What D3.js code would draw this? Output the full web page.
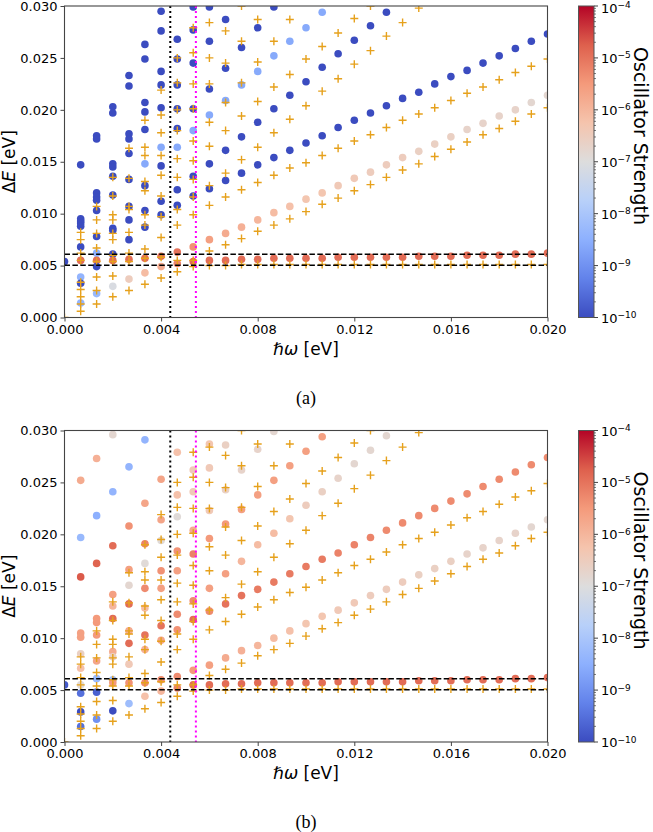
<!DOCTYPE html>
<html>
<head>
<meta charset="utf-8">
<script src="https://cdn.jsdelivr.net/npm/d3@7"></script>
<style>
  body { margin: 0; background: #fff; }
  svg text { font-family: "DejaVu Sans", sans-serif; fill: #000; }
</style>
</head>
<body>
<svg id="fig" width="653" height="832"></svg>
<script>

// photon energy of each column (eV)
const omega = [0, 0.00067, 0.00133, 0.002, 0.00267, 0.00333, 0.004, 0.00467, 0.00533, 0.006,
  0.00667, 0.00733, 0.008, 0.00867, 0.00933, 0.01, 0.01067, 0.01133, 0.012, 0.01267,
  0.01333, 0.014, 0.01467, 0.01533, 0.016, 0.01667, 0.01733, 0.018, 0.01867, 0.01933, 0.02]

// panel (a): per column, [deltaE, log10 oscillator strength]
const circlesA = [
  [[0.0054, -10]],
  [[0.0147, -10], [0.0095, -10], [0.0093, -10], [0.0091, -10], [0.0088, -10], [0.0068, -10], [0.0055, -4.9], [0.0039, -8.4], [0.0033, -10], [0.0014, -8.4]],
  [[0.0175, -10], [0.0172, -10], [0.0120, -10], [0.0116, -10], [0.0113, -10], [0.0103, -10], [0.0078, -10], [0.0062, -8.5], [0.0055, -4.9], [0.0049, -10], [0.0023, -8.3]],
  [[0.0203, -10], [0.0197, -10], [0.0148, -10], [0.0145, -10], [0.0136, -10], [0.0118, -10], [0.0086, -10], [0.0084, -10], [0.0061, -10], [0.0055, -4.9], [0.0030, -7.1]],
  [[0.0233, -10], [0.0223, -10], [0.0177, -10], [0.0172, -10], [0.0158, -10], [0.0133, -10], [0.0107, -10], [0.0094, -10], [0.0075, -10], [0.0056, -4.9], [0.0037, -6.5]],
  [[0.0263, -10], [0.0249, -10], [0.0207, -10], [0.0198, -10], [0.0181, -10], [0.0148, -8.6], [0.0127, -10], [0.0103, -10], [0.0087, -10], [0.0057, -4.9], [0.0043, -6.1]],
  [[0.0295, -10], [0.0276, -10], [0.0237, -10], [0.0224, -10], [0.0202, -10], [0.0164, -8.6], [0.0146, -10], [0.0112, -10], [0.0099, -10], [0.0059, -4.9], [0.0049, -5.8]],
  [[0.0268, -10], [0.0249, -10], [0.0224, -10], [0.0201, -10], [0.0182, -10], [0.0164, -8.6], [0.0123, -10], [0.0108, -10], [0.0063, -5.0], [0.0052, -5.2]],
  [[0.0299, -10], [0.0277, -10], [0.0245, -10], [0.0201, -10], [0.0180, -8.6], [0.0136, -10], [0.0117, -10], [0.0068, -5.4], [0.0054, -4.9]],
  [[0.0299, -10], [0.0266, -10], [0.0220, -10], [0.0195, -8.6], [0.0148, -10], [0.0124, -10], [0.0075, -5.6], [0.0055, -4.9]],
  [[0.0287, -10], [0.0240, -10], [0.0209, -8.6], [0.0161, -10], [0.0132, -10], [0.0081, -5.8], [0.0055, -4.9]],
  [[0.0260, -10], [0.0224, -8.6], [0.0174, -10], [0.0139, -10], [0.0087, -5.9], [0.0056, -4.9]],
  [[0.0279, -10], [0.0237, -8.6], [0.0188, -10], [0.0147, -10], [0.0094, -6.0], [0.0056, -4.9]],
  [[0.0299, -10], [0.0252, -8.6], [0.0201, -10], [0.0154, -10], [0.0101, -6.1], [0.0057, -4.9]],
  [[0.0266, -8.6], [0.0214, -10], [0.0161, -10], [0.0107, -6.2], [0.0057, -4.9]],
  [[0.0279, -8.6], [0.0227, -10], [0.0168, -10], [0.0114, -6.3], [0.0057, -4.9]],
  [[0.0294, -8.6], [0.0241, -10], [0.0175, -10], [0.0120, -6.3], [0.0057, -4.9]],
  [[0.0254, -10], [0.0183, -10], [0.0127, -6.4], [0.0058, -4.9]],
  [[0.0267, -10], [0.0190, -10], [0.0134, -6.4], [0.0058, -4.9]],
  [[0.0281, -10], [0.0197, -10], [0.0140, -6.5], [0.0058, -4.9]],
  [[0.0294, -10], [0.0204, -10], [0.0147, -6.5], [0.0058, -4.9]],
  [[0.0211, -10], [0.0154, -6.5], [0.0058, -4.9]],
  [[0.0217, -10], [0.0160, -6.6], [0.0059, -4.9]],
  [[0.0225, -10], [0.0167, -6.6], [0.0059, -4.9]],
  [[0.0232, -10], [0.0174, -6.6], [0.0059, -4.9]],
  [[0.0238, -10], [0.0181, -6.7], [0.0060, -4.9]],
  [[0.0245, -10], [0.0187, -6.7], [0.0060, -4.9]],
  [[0.0252, -10], [0.0194, -6.7], [0.0060, -4.9]],
  [[0.0259, -10], [0.0200, -6.7], [0.0061, -4.9]],
  [[0.0266, -10], [0.0207, -6.8], [0.0061, -4.9]],
  [[0.0273, -10], [0.0214, -6.8], [0.0062, -4.9]]
]

// panel (b): per column, [deltaE, log10 oscillator strength]
const circlesB = [
  [[0.0055, -9.8]],
  [[0.0252, -5.8], [0.0197, -8.3], [0.0159, -4.7], [0.0105, -5.6], [0.0101, -5.6], [0.0085, -6.6], [0.0071, -6.2], [0.0055, -6.9], [0.0047, -9.5], [0.0029, -10], [0.0015, -9.5]],
  [[0.0273, -5.9], [0.0218, -8.5], [0.0172, -4.8], [0.0119, -5.5], [0.0115, -5.5], [0.0103, -5.5], [0.0078, -5.7], [0.0061, -8.3], [0.0048, -9.7], [0.0022, -9.0]],
  [[0.0296, -6.8], [0.0241, -8.4], [0.0189, -4.9], [0.0142, -5.6], [0.0131, -6.0], [0.0119, -4.9], [0.0087, -5.8], [0.0082, -6.6], [0.0060, -8.2], [0.0057, -5.5], [0.0030, -10]],
  [[0.0265, -8.4], [0.0208, -5.4], [0.0166, -5.6], [0.0151, -6.8], [0.0133, -4.9], [0.0107, -5.8], [0.0095, -4.9], [0.0075, -6.4], [0.0057, -5.4], [0.0037, -8.2]],
  [[0.0291, -8.4], [0.0230, -5.7], [0.0191, -5.2], [0.0172, -6.9], [0.0148, -5.3], [0.0129, -6.1], [0.0103, -5.0], [0.0089, -5.9], [0.0057, -5.3], [0.0044, -6.2]],
  [[0.0253, -5.7], [0.0214, -5.7], [0.0194, -6.9], [0.0165, -5.4], [0.0148, -5.6], [0.0112, -5.0], [0.0098, -5.7], [0.0060, -5.3], [0.0049, -6.0]],
  [[0.0279, -6.2], [0.0238, -6.2], [0.0217, -6.9], [0.0184, -5.4], [0.0165, -5.6], [0.0123, -5.3], [0.0108, -5.4], [0.0063, -5.3], [0.0052, -5.2]],
  [[0.0262, -6.4], [0.0241, -6.4], [0.0204, -5.8], [0.0181, -5.2], [0.0136, -5.3], [0.0118, -4.9], [0.0069, -5.5], [0.0055, -4.9]],
  [[0.0287, -6.3], [0.0264, -6.4], [0.0223, -6.4], [0.0196, -5.5], [0.0148, -5.6], [0.0126, -5.3], [0.0074, -5.6], [0.0055, -4.9]],
  [[0.0286, -6.6], [0.0243, -6.6], [0.0210, -5.5], [0.0162, -5.6], [0.0133, -5.0], [0.0081, -5.8], [0.0056, -4.9]],
  [[0.0262, -6.7], [0.0224, -5.6], [0.0174, -6.0], [0.0141, -5.0], [0.0088, -5.9], [0.0056, -4.9]],
  [[0.0282, -6.7], [0.0238, -5.6], [0.0190, -6.1], [0.0147, -5.1], [0.0093, -6.0], [0.0057, -4.9]],
  [[0.0299, -6.8], [0.0252, -5.6], [0.0201, -6.1], [0.0154, -5.1], [0.0100, -6.1], [0.0057, -4.9]],
  [[0.0266, -5.6], [0.0215, -6.3], [0.0162, -5.1], [0.0107, -6.2], [0.0057, -4.9]],
  [[0.0280, -5.6], [0.0228, -6.5], [0.0169, -5.1], [0.0114, -6.3], [0.0057, -4.9]],
  [[0.0294, -5.6], [0.0241, -6.6], [0.0176, -5.1], [0.0121, -6.3], [0.0057, -4.9]],
  [[0.0254, -6.7], [0.0182, -5.2], [0.0127, -6.4], [0.0058, -4.9]],
  [[0.0268, -6.8], [0.0190, -5.2], [0.0134, -6.4], [0.0058, -4.9]],
  [[0.0281, -6.8], [0.0197, -5.2], [0.0141, -6.5], [0.0058, -4.9]],
  [[0.0295, -6.8], [0.0204, -5.3], [0.0147, -6.5], [0.0058, -4.9]],
  [[0.0211, -5.3], [0.0154, -6.5], [0.0058, -4.9]],
  [[0.0218, -5.3], [0.0161, -6.6], [0.0059, -4.9]],
  [[0.0225, -5.3], [0.0167, -6.6], [0.0059, -4.9]],
  [[0.0232, -5.3], [0.0174, -6.6], [0.0059, -4.9]],
  [[0.0239, -5.3], [0.0181, -6.7], [0.0060, -4.9]],
  [[0.0246, -5.3], [0.0187, -6.7], [0.0060, -4.9]],
  [[0.0253, -5.3], [0.0194, -6.7], [0.0060, -4.9]],
  [[0.0260, -5.3], [0.0201, -6.7], [0.0061, -4.9]],
  [[0.0267, -5.3], [0.0207, -6.8], [0.0061, -4.9]],
  [[0.0274, -5.3], [0.0214, -6.8], [0.0062, -4.9]]
]

// '+' markers, same in both panels: per column, deltaE
const pluses = [
  [0.0000],
  [0.0082, 0.0075, 0.0062, 0.0055, 0.0034, 0.0027, 0.0020, 0.0013, 0.0006],
  [0.0107, 0.0094, 0.0081, 0.0067, 0.0054, 0.0039, 0.0026, 0.0013],
  [0.0135, 0.0117, 0.0099, 0.0094, 0.0081, 0.0075, 0.0060, 0.0054, 0.0040, 0.0020],
  [0.0163, 0.0134, 0.0107, 0.0104, 0.0082, 0.0062, 0.0054, 0.0026],
  [0.0190, 0.0164, 0.0156, 0.0131, 0.0122, 0.0099, 0.0089, 0.0066, 0.0057, 0.0032],
  [0.0219, 0.0195, 0.0178, 0.0156, 0.0137, 0.0117, 0.0097, 0.0077, 0.0058, 0.0038],
  [0.0250, 0.0226, 0.0200, 0.0180, 0.0153, 0.0135, 0.0104, 0.0089, 0.0055, 0.0044],
  [0.0279, 0.0255, 0.0225, 0.0201, 0.0170, 0.0151, 0.0133, 0.0116, 0.0099, 0.0055, 0.0049],
  [0.0284, 0.0250, 0.0225, 0.0188, 0.0165, 0.0127, 0.0108, 0.0064, 0.0050],
  [0.0276, 0.0245, 0.0207, 0.0180, 0.0139, 0.0116, 0.0070, 0.0050],
  [0.0300, 0.0266, 0.0226, 0.0194, 0.0152, 0.0123, 0.0076, 0.0051],
  [0.0287, 0.0246, 0.0208, 0.0164, 0.0130, 0.0083, 0.0051],
  [0.0266, 0.0222, 0.0178, 0.0137, 0.0089, 0.0051],
  [0.0287, 0.0234, 0.0191, 0.0144, 0.0095, 0.0051],
  [0.0249, 0.0204, 0.0149, 0.0102, 0.0051],
  [0.0261, 0.0218, 0.0156, 0.0109, 0.0051],
  [0.0274, 0.0230, 0.0163, 0.0115, 0.0051],
  [0.0288, 0.0244, 0.0170, 0.0122, 0.0051],
  [0.0300, 0.0257, 0.0176, 0.0128, 0.0051],
  [0.0271, 0.0183, 0.0135, 0.0051],
  [0.0284, 0.0190, 0.0142, 0.0051],
  [0.0298, 0.0196, 0.0148, 0.0051],
  [0.0202, 0.0155, 0.0051],
  [0.0209, 0.0162, 0.0051],
  [0.0216, 0.0169, 0.0051],
  [0.0222, 0.0176, 0.0051],
  [0.0229, 0.0182, 0.0051],
  [0.0236, 0.0189, 0.0051],
  [0.0242, 0.0196, 0.0051],
  [0.0249, 0.0202, 0.0051]
]

const dashedLevels = [0.00503, 0.00609]
const blackDotX = 0.00438
const magentaDotX = 0.00544

const xTicks = [0, 0.004, 0.008, 0.012, 0.016, 0.020]
const yTicks = [0, 0.005, 0.010, 0.015, 0.020, 0.025, 0.030]
const cbDecades = [-10, -9, -8, -7, -6, -5, -4]

// matplotlib coolwarm
const coolwarmStops = ['#3b4cc0', '#6282ea', '#8db0fe', '#b8d0f9', '#dddddd', '#f5c4ad', '#f49a7b', '#de604d', '#b40426']

const color = d3.scaleLinear()
    .domain(d3.range(coolwarmStops.length).map(i => -10 + 6 * i / (coolwarmStops.length - 1)))
    .range(coolwarmStops)
    .interpolate(d3.interpolateRgb)
    .clamp(true)

const fig = d3.select('#fig')

const left = 64.5, right = 547.5
const x = d3.scaleLinear().domain([0, 0.02]).range([left, right])

const cbLeft = 578.5, cbWidth = 15.5

const defs = fig.append('defs')

const grad = defs.append('linearGradient')
    .attr('id', 'cbgrad').attr('x1', 0).attr('y1', 1).attr('x2', 0).attr('y2', 0)
coolwarmStops.forEach((c, i) => {
    grad.append('stop').attr('offset', i / (coolwarmStops.length - 1)).attr('stop-color', c)
})

function drawPanel(id, top, bottom, circles, caption) {

    const y = d3.scaleLinear().domain([0, 0.03]).range([bottom, top])

    const g = fig.append('g').attr('id', id)

    defs.append('clipPath').attr('id', 'clip-' + id)
        .append('rect').attr('x', left).attr('y', top).attr('width', right - left).attr('height', bottom - top)

    const plot = g.append('g').attr('clip-path', `url(#clip-${id})`)

    const circ = []
    circles.forEach((col, k) => col.forEach(d => circ.push({ w: omega[k], e: d[0], f: d[1] })))

    plot.selectAll('circle').data(circ).join('circle')
        .attr('cx', d => x(d.w))
        .attr('cy', d => y(d.e))
        .attr('r', 3.8)
        .attr('fill', d => color(d.f))

    const pl = []
    pluses.forEach((col, k) => col.forEach(e => pl.push({ w: omega[k], e: e })))

    plot.selectAll('path.plus').data(pl).join('path')
        .attr('class', 'plus')
        .attr('d', d => {
            const cx = x(d.w), cy = y(d.e), s = 4
            return `M${cx - s},${cy}H${cx + s}M${cx},${cy - s}V${cy + s}`
        })
        .attr('stroke', '#e6a11c')
        .attr('stroke-width', 1.4)
        .attr('fill', 'none')

    dashedLevels.forEach(v => {
        plot.append('line')
            .attr('x1', left).attr('x2', right)
            .attr('y1', y(v)).attr('y2', y(v))
            .attr('stroke', '#000').attr('stroke-width', 1.5)
            .attr('stroke-dasharray', '5.5,2.4')
    })

    plot.append('line')
        .attr('x1', x(blackDotX)).attr('x2', x(blackDotX))
        .attr('y1', top).attr('y2', bottom)
        .attr('stroke', '#000').attr('stroke-width', 2)
        .attr('stroke-dasharray', '2,3')

    plot.append('line')
        .attr('x1', x(magentaDotX)).attr('x2', x(magentaDotX))
        .attr('y1', top).attr('y2', bottom)
        .attr('stroke', '#ff00ff').attr('stroke-width', 2)
        .attr('stroke-dasharray', '2,3')

    // axes
    const xAxis = g.append('g').attr('transform', `translate(0,${bottom})`)
        .call(d3.axisBottom(x).tickValues(xTicks).tickFormat(d3.format('.3f')).tickSize(4).tickPadding(3))
    const yAxis = g.append('g').attr('transform', `translate(${left},0)`)
        .call(d3.axisLeft(y).tickValues(yTicks).tickFormat(d3.format('.3f')).tickSize(4).tickPadding(3))

    ;[xAxis, yAxis].forEach(a => {
        a.select('.domain').remove()
        a.selectAll('line').attr('stroke', '#444')
        a.selectAll('text').attr('font-size', 13).attr('font-family', 'DejaVu Sans').attr('fill', '#000')
    })

    g.append('rect')
        .attr('x', left).attr('y', top).attr('width', right - left).attr('height', bottom - top)
        .attr('fill', 'none').attr('stroke', '#444').attr('stroke-width', 1.1)

    g.append('text')
        .attr('x', (left + right) / 2).attr('y', bottom + 37)
        .attr('text-anchor', 'middle').attr('font-size', 17)
        .html('<tspan font-style="italic">ℏω</tspan> [eV]')

    g.append('text')
        .attr('transform', `translate(15,${(top + bottom) / 2}) rotate(-90)`)
        .attr('text-anchor', 'middle').attr('font-size', 17)
        .html('Δ<tspan font-style="italic">E</tspan> [eV]')

    g.append('text')
        .attr('x', (left + right) / 2).attr('y', bottom + 86)
        .attr('text-anchor', 'middle').attr('font-size', 18)
        .style('font-family', '"Liberation Serif", "DejaVu Serif", serif')
        .text(caption)

    // colorbar
    const cb = d3.scaleLinear().domain([-10, -4]).range([bottom, top])
    const cg = g.append('g')

    cg.append('rect')
        .attr('x', cbLeft).attr('y', top).attr('width', cbWidth).attr('height', bottom - top)
        .attr('fill', 'url(#cbgrad)').attr('stroke', '#555').attr('stroke-width', 1)

    const minor = []
    cbDecades.slice(0, -1).forEach(e => d3.range(2, 10).forEach(m => minor.push(e + Math.log10(m))))

    cg.selectAll('line.minor').data(minor).join('line')
        .attr('class', 'minor')
        .attr('x1', cbLeft + cbWidth).attr('x2', cbLeft + cbWidth + 2)
        .attr('y1', d => cb(d)).attr('y2', d => cb(d))
        .attr('stroke', '#444').attr('stroke-width', 0.7)

    cg.selectAll('line.major').data(cbDecades).join('line')
        .attr('class', 'major')
        .attr('x1', cbLeft + cbWidth).attr('x2', cbLeft + cbWidth + 4)
        .attr('y1', d => cb(d)).attr('y2', d => cb(d))
        .attr('stroke', '#444').attr('stroke-width', 1)

    const lab = cg.selectAll('text.cbl').data(cbDecades).join('text')
        .attr('class', 'cbl')
        .attr('x', cbLeft + cbWidth + 7)
        .attr('y', d => Math.max(cb(d) + 5, 12.5))
        .attr('font-size', 13)
    lab.append('tspan').text('10')
    lab.append('tspan').attr('dy', -4.5).attr('font-size', 9).text(d => '−' + Math.abs(d))

    cg.append('text')
        .attr('transform', `translate(634,${top + 130}) rotate(90)`)
        .attr('text-anchor', 'middle').attr('font-size', 19)
        .text('Oscillator Strength')
}

drawPanel('a', 6, 317.5, circlesA, '(a)')
drawPanel('b', 430.5, 742, circlesB, '(b)')

</script>
</body>
</html>
